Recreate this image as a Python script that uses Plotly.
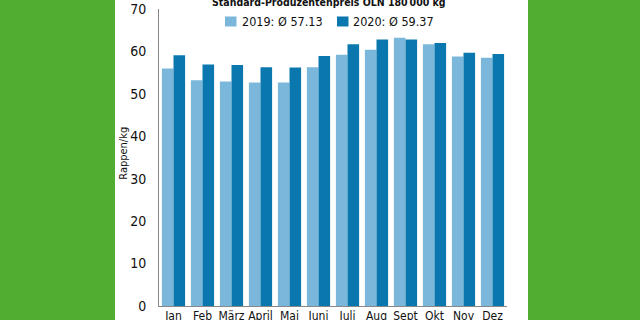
import plotly.graph_objects as go

months = ["Jan", "Feb", "März", "April", "Mai", "Juni", "Juli", "Aug", "Sept", "Okt", "Nov", "Dez"]
values_2019 = [56.0, 53.2, 52.9, 52.7, 52.7, 56.3, 59.2, 60.4, 63.2, 61.7, 58.8, 58.5]
values_2020 = [59.1, 56.9, 56.8, 56.3, 56.2, 58.9, 61.7, 62.8, 62.8, 62.0, 59.7, 59.4]
series_names = ["2019: Ø 57.13", "2020: Ø 59.37"]
colors = ["#7ab7da", "#0a78af"]
title_text = "Standard-Produzentenpreis OLN 180\u2009000 kg"
y_title = "Rappen/kg"
y_ticks = [0, 10, 20, 30, 40, 50, 60, 70]

FONT = "DejaVu Sans Condensed, Liberation Sans Narrow, Liberation Sans, sans-serif"
GREEN = "#50ad31"

fig = go.Figure()
fig.add_trace(go.Bar(x=months, y=values_2019, name=series_names[0], marker=dict(color=colors[0], line=dict(width=0))))
fig.add_trace(go.Bar(x=months, y=values_2020, name=series_names[1], marker=dict(color=colors[1], line=dict(width=0))))

L, R, T, B = 159, 133, 9, 13.5
W, H = 640, 320
pw = W - L - R
ph = H - T - B

def px_x(x):
    return (x - L) / pw

def px_y(y):
    return (H - B - y) / ph

shapes = [
    dict(type="rect", xref="paper", yref="paper", x0=px_x(115), x1=px_x(528), y0=-0.3, y1=1.3,
         fillcolor="white", line=dict(width=0), layer="below"),
    dict(type="rect", xref="paper", yref="paper", x0=px_x(225), x1=px_x(236.5), y0=px_y(26.5), y1=px_y(16.5),
         fillcolor=colors[0], line=dict(width=0)),
    dict(type="rect", xref="paper", yref="paper", x0=px_x(337), x1=px_x(348.5), y0=px_y(26.5), y1=px_y(16.5),
         fillcolor=colors[1], line=dict(width=0)),
]

annotations = [
    dict(text="<b>" + title_text + "</b>", xref="paper", yref="paper", x=px_x(329), y=px_y(1.5),
         xanchor="center", yanchor="middle", showarrow=False, font=dict(family=FONT, size=10.5, color="#111")),
    dict(text=series_names[0], xref="paper", yref="paper", x=px_x(240), y=px_y(21.5),
         xanchor="left", yanchor="middle", showarrow=False, font=dict(family=FONT, size=12.5, color="#111")),
    dict(text=series_names[1], xref="paper", yref="paper", x=px_x(351), y=px_y(21.5),
         xanchor="left", yanchor="middle", showarrow=False, font=dict(family=FONT, size=12.5, color="#111")),
    dict(text=y_title, xref="paper", yref="paper", x=px_x(124), y=px_y(154), textangle=-90,
         xanchor="center", yanchor="middle", showarrow=False, font=dict(family=FONT, size=11, color="#111")),
]

fig.update_layout(
    width=W, height=H,
    margin=dict(l=L, r=R, t=T, b=B, pad=0),
    paper_bgcolor=GREEN,
    plot_bgcolor="white",
    barmode="group",
    bargap=0.2,
    bargroupgap=0.0,
    showlegend=False,
    shapes=shapes,
    annotations=annotations,
    font=dict(family=FONT, size=14, color="#111"),
)
fig.update_xaxes(
    type="category", range=[-0.5, 11.5], showgrid=False, showline=True, linecolor="#888", linewidth=1,
    ticks="", tickangle=0, tickfont=dict(family=FONT, size=12, color="#111"), automargin=False,
    ticklabelstandoff=-1,
)
fig.update_yaxes(
    range=[0, 70], tickvals=y_ticks, showgrid=False, showline=True, linecolor="#888", linewidth=1,
    zeroline=False, ticks="", tickfont=dict(family=FONT, size=14, color="#111"), automargin=False,
    ticklabelstandoff=9,
)

fig.write_html("out.html")
